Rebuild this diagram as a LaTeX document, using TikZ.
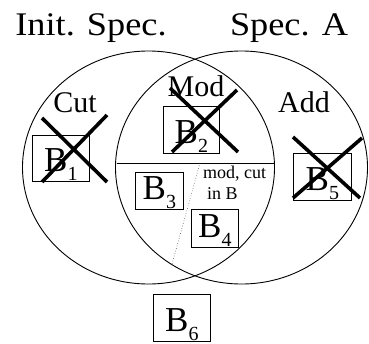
\documentclass[tikz,border=0pt]{standalone}
\usepackage{fontspec}
\setmainfont{Liberation Serif}
\tikzset{
  venn/.style={line width=0.9pt},
  bbox/.style={draw, line width=0.8pt, inner sep=0pt, anchor=south west},
  xmark/.style={line width=3.6pt},
  ttl/.style={anchor=base, inner sep=0pt, font=\fontsize{33}{33}\selectfont, xscale=1.1, transform shape},
  lbl/.style={anchor=base, inner sep=0pt, font=\fontsize{30}{30}\selectfont},
  small/.style={anchor=base west, inner sep=0pt, font=\fontsize{18}{18}\selectfont},
}
\newcommand{\bsub}[1]{\fontsize{35}{35}\selectfont B\raisebox{-9pt}{\fontsize{20}{20}\selectfont #1}}
\begin{document}
\begin{tikzpicture}[x=1pt,y=-1pt]
\useasboundingbox (0,0) rectangle (369,343);
% ellipses
\draw[venn] (148.5,167.5) ellipse [x radius=126, y radius=116.5];
\draw[venn] (241.5,167.5) ellipse [x radius=126, y radius=116.5];
% dividers
\coordinate (hl) at (116.5,163);
\coordinate (hr) at (274.5,163);
\draw[line width=0.9pt] (hl) -- (hr);
\coordinate (dt) at (200,163);
\coordinate (db) at (172,264);
\draw[black!70, line width=0.6pt, dotted] (dt) -- (db);
% titles
\node[ttl] (t1) at (91,35) {Init. Spec.};
\node[ttl] (t2) at (289,35) {Spec. A};
% region labels
\node[lbl] (cut) at (75,112) {Cut};
\node[lbl] (mod) at (196,96) {Mod};
\node[lbl] (add) at (304,112) {Add};
\node[small] (m1) at (203,178) {mod, cut};
\node[small] (m2) at (207,199) {in B};
% boxes
\node[bbox, minimum width=57pt, text height=36pt, text depth=10pt] (b1) at (32,182) {\bsub{1}};
\node[bbox, minimum width=56pt, text height=37pt, text depth=10pt] (b2) at (163,154) {\bsub{2}};
\node[bbox, minimum width=48pt, text height=27pt, text depth=10pt] (b3) at (135,210) {\bsub{3}};
\node[bbox, minimum width=47pt, text height=28pt, text depth=10pt] (b4) at (191,248) {\bsub{4}};
\node[bbox, minimum width=58pt, text height=37pt, text depth=10pt] (b5) at (293,201) {\bsub{5}};
\node[bbox, minimum width=57pt, text height=37pt, text depth=10pt] (b6) at (153,341.5) {\bsub{6}};
% crosses
\draw[xmark] (42,118) -- (107,182);
\draw[xmark] (107,115) -- (42,182);
\draw[xmark] (170,88) -- (238,152);
\draw[xmark] (237,90) -- (172,152);
\draw[xmark] (293,137) -- (360,198);
\draw[xmark] (362,138) -- (293,198);
\end{tikzpicture}
\end{document}
